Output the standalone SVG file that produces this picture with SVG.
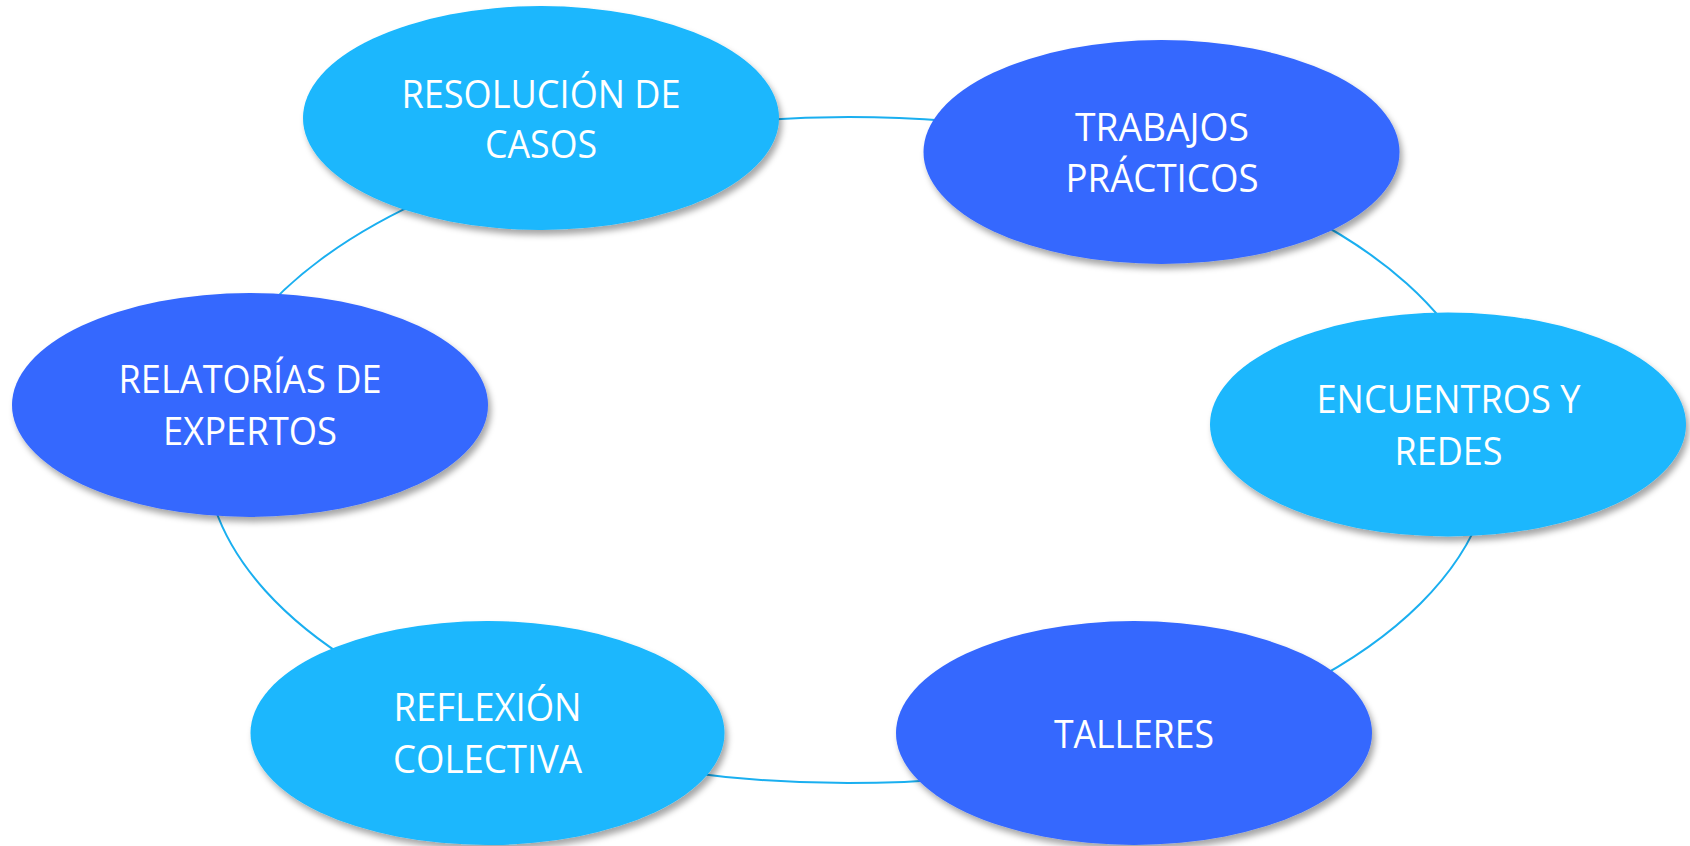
<svg xmlns="http://www.w3.org/2000/svg" width="1690" height="846" viewBox="0 0 1690 846">
<defs>
<filter id="sh" x="-10%" y="-10%" width="125%" height="130%">
<feDropShadow dx="3" dy="5" stdDeviation="3" flood-color="#000" flood-opacity="0.35"/>
</filter>
<style>
.light{fill:#1AB7FD;filter:url(#sh)}
.dark{fill:#3567FE;filter:url(#sh)}
.lbl{font-family:"Open Sans","Liberation Sans",sans-serif;font-size:39px;fill:#fff;text-anchor:middle}
.arc{fill:none;stroke:#1AAFF0;stroke-width:2}
</style>
</defs>
<rect width="1690" height="846" fill="#fff"/>
<g id="connectors">
<path class="arc" d="M759.4,120.2 A644,333 0 0 1 949.7,121.1"/>
<path class="arc" d="M1304.4,214.5 A644,333 0 0 1 1471,363.8"/>
<path class="arc" d="M1483.2,507.8 A644,333 0 0 1 1304.4,685.5"/>
<path class="arc" d="M960.8,777.9 A644,333 0 0 1 682.3,771.7"/>
<path class="arc" d="M355.7,664.1 A644,333 0 0 1 214.8,507.8"/>
<path class="arc" d="M243.8,336.1 A644,333 0 0 1 435,194.9"/>
</g>
<g id="n1">
<ellipse class="light" cx="541" cy="118" rx="238" ry="112"/>
<text class="lbl" x="541" y="108" textLength="279" lengthAdjust="spacingAndGlyphs">RESOLUCIÓN DE</text>
<text class="lbl" x="541" y="158" textLength="112" lengthAdjust="spacingAndGlyphs">CASOS</text>
</g>
<g id="n2">
<ellipse class="dark" cx="1161.5" cy="152" rx="238" ry="112"/>
<text class="lbl" x="1162" y="141" textLength="174" lengthAdjust="spacingAndGlyphs">TRABAJOS</text>
<text class="lbl" x="1162" y="192" textLength="193" lengthAdjust="spacingAndGlyphs">PRÁCTICOS</text>
</g>
<g id="n3">
<ellipse class="light" cx="1448" cy="424.5" rx="238" ry="112"/>
<text class="lbl" x="1448.5" y="413" textLength="264" lengthAdjust="spacingAndGlyphs">ENCUENTROS Y</text>
<text class="lbl" x="1448.5" y="465" textLength="108" lengthAdjust="spacingAndGlyphs">REDES</text>
</g>
<g id="n4">
<ellipse class="dark" cx="1134" cy="733" rx="238" ry="112"/>
<text class="lbl" x="1134" y="748" textLength="160" lengthAdjust="spacingAndGlyphs">TALLERES</text>
</g>
<g id="n5">
<ellipse class="light" cx="487.5" cy="733" rx="237" ry="112"/>
<text class="lbl" x="487.5" y="721" textLength="188" lengthAdjust="spacingAndGlyphs">REFLEXIÓN</text>
<text class="lbl" x="487.5" y="773" textLength="189" lengthAdjust="spacingAndGlyphs">COLECTIVA</text>
</g>
<g id="n6">
<ellipse class="dark" cx="250" cy="405" rx="238" ry="112"/>
<text class="lbl" x="250" y="393" textLength="263" lengthAdjust="spacingAndGlyphs">RELATORÍAS DE</text>
<text class="lbl" x="250" y="445" textLength="174" lengthAdjust="spacingAndGlyphs">EXPERTOS</text>
</g>
</svg>
